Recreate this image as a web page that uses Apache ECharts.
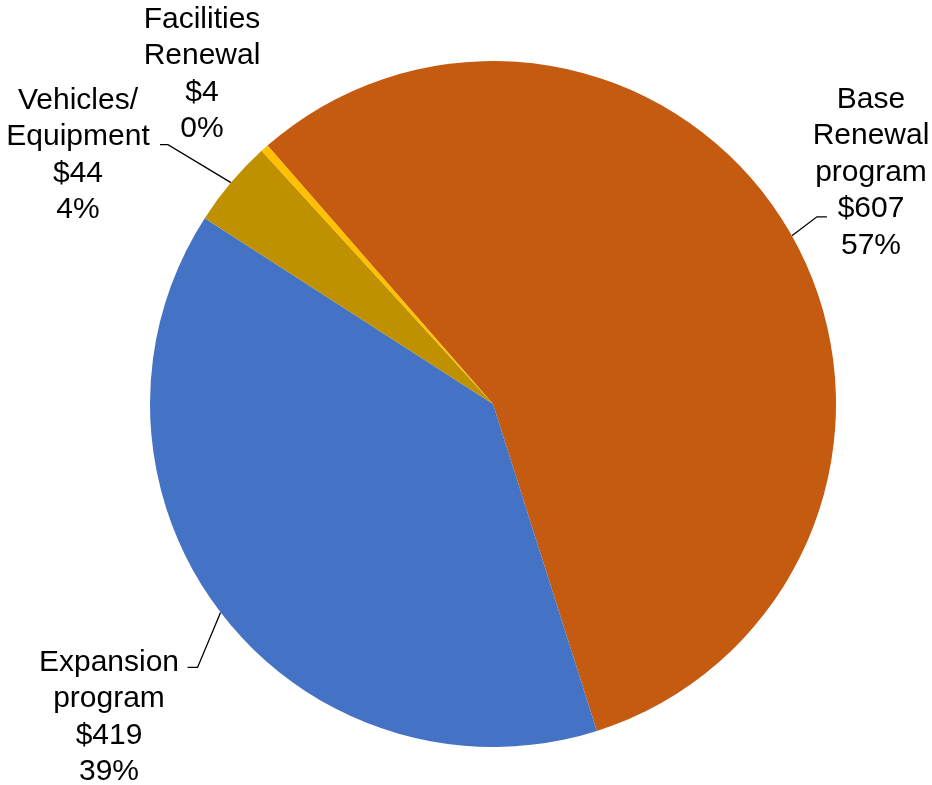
<!DOCTYPE html>
<html>
<head>
<meta charset="utf-8">
<title>Program Spending</title>
<script src="https://cdn.jsdelivr.net/npm/echarts@6/dist/echarts.min.js"></script>
<style>
  html, body { margin: 0; padding: 0; background: #ffffff; }
  #chart { width: 932px; height: 785px; }
</style>
</head>
<body>
<div id="chart"></div>
<script>
// Spending by program ($ millions)
const categories = ['Base\nRenewal\nprogram', 'Expansion\nprogram', 'Vehicles/\nEquipment', 'Facilities\nRenewal'];
const amounts = [607, 419, 44, 4];
const percentLabels = ['57%', '39%', '4%', '0%'];
const sliceColors = ['#C55A11', '#4472C4', '#BF9000', '#FFC000'];

// Where each label block sits (top-centre of the text block), and how the
// leader line bends away from the slice edge toward it
const labelSpots = {
  'Base\nRenewal\nprogram': { x: 871, y: 81, bend: [25, -19], tail: 10 },
  'Expansion\nprogram': { x: 109, y: 644, bend: [-23, 55], tail: -10 },
  'Vehicles/\nEquipment': { x: 78, y: 82, bend: [-63, -38], tail: -8 },
  'Facilities\nRenewal': { x: 202, y: 1, bend: null, tail: 0 }
};

const chart = echarts.init(document.getElementById('chart'), null, { renderer: 'canvas' });

const data = categories.map((name, i) => ({
  name: name,
  value: amounts[i],
  pct: percentLabels[i],
  itemStyle: { color: sliceColors[i] },
  labelLine: { show: i !== 3 }
}));

chart.setOption({
  backgroundColor: '#ffffff',
  animation: false,
  series: [{
    type: 'pie',
    center: [493, 404],
    radius: 343,
    startAngle: 131.1,
    clockwise: true,
    avoidLabelOverlap: false,
    data: data,
    itemStyle: { borderWidth: 0 },
    label: {
      show: true,
      position: 'outside',
      color: '#000000',
      fontFamily: 'Liberation Sans, Arial, sans-serif',
      fontSize: 30,
      lineHeight: 36.5,
      align: 'center',
      formatter: function (p) {
        return p.name + '\n$' + p.value + '\n' + p.data.pct;
      }
    },
    labelLine: {
      show: true,
      length: 20,
      length2: 10,
      lineStyle: { color: '#000000', width: 1.3 }
    },
    labelLayout: function (params) {
      const spot = labelSpots[categories[params.dataIndex]];
      const out = { x: spot.x, y: spot.y, align: 'center', verticalAlign: 'top' };
      const pts = params.labelLinePoints;
      if (spot.bend && pts && pts.length) {
        const a = pts[0];
        const b = [a[0] + spot.bend[0], a[1] + spot.bend[1]];
        const c = [b[0] + spot.tail, b[1]];
        out.labelLinePoints = [a, b, c];
      }
      return out;
    },
    emphasis: { disabled: true }
  }]
});
</script>
</body>
</html>
